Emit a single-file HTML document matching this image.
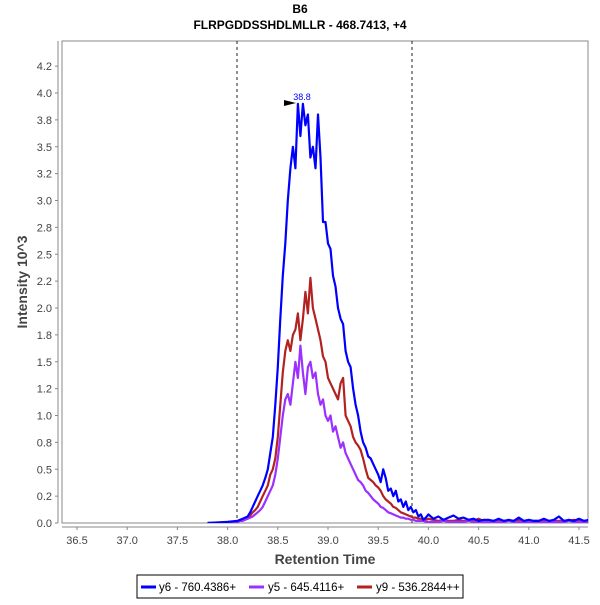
<!DOCTYPE html>
<html><head><meta charset="utf-8"><style>
body{margin:0;background:#fff;width:600px;height:600px;overflow:hidden;font-family:"Liberation Sans",sans-serif}
</style></head><body>
<svg id="chart" width="600" height="600" xmlns="http://www.w3.org/2000/svg" font-family="Liberation Sans, sans-serif">
<defs><clipPath id="clip"><rect x="62" y="41" width="526" height="482"/></clipPath></defs>
<text x="300" y="13" text-anchor="middle" font-size="12" font-weight="bold">B6</text>
<text x="300" y="29" text-anchor="middle" font-size="12" font-weight="bold">FLRPGDDSSHDLMLLR - 468.7413, +4</text>
<rect x="62" y="41" width="526" height="482" fill="#fff" stroke="#888" stroke-width="1"/>
<line x1="58" y1="41" x2="58" y2="523" stroke="#888"/>
<line x1="62" y1="527" x2="588" y2="527" stroke="#888"/>
<g id="yticks"></g><g id="xticks"></g>
<text transform="translate(27,282) rotate(-90)" text-anchor="middle" font-size="14" font-weight="bold" fill="#444">Intensity 10^3</text>
<text x="325" y="564" text-anchor="middle" font-size="14" font-weight="bold" fill="#444">Retention Time</text>
<line x1="237" y1="41" x2="237" y2="523" stroke="#222" stroke-dasharray="3,3"/>
<line x1="412" y1="41" x2="412" y2="523" stroke="#222" stroke-dasharray="3,3"/>
<g id="series" clip-path="url(#clip)"></g>
<polygon points="284,100 296,103 284,106" fill="#000"/>
<text x="302" y="100" text-anchor="middle" font-size="9" fill="#00f">38.8</text>
<g>
<rect x="137" y="575" width="326" height="23" fill="#fff" stroke="#000"/>
<line x1="141" y1="587" x2="156" y2="587" stroke="#00f" stroke-width="3"/>
<text x="159" y="591" font-size="11.5">y6 - 760.4386+</text>
<line x1="249" y1="587" x2="264" y2="587" stroke="#9b30ff" stroke-width="3"/>
<text x="268" y="591" font-size="11.5">y5 - 645.4116+</text>
<line x1="357" y1="587" x2="372" y2="587" stroke="#b22222" stroke-width="3"/>
<text x="376" y="591" font-size="11.5">y9 - 536.2844++</text>
</g>
</svg>
<script>
const yTickValues=[0,0.25,0.5,0.75,1,1.25,1.5,1.75,2,2.25,2.5,2.75,3,3.25,3.5,3.75,4,4.25];
const yTickLabels=["0.0","0.2","0.5","0.8","1.0","1.2","1.5","1.8","2.0","2.2","2.5","2.8","3.0","3.2","3.5","3.8","4.0","4.2"];
const xTickLabels=["36.5","37.0","37.5","38.0","38.5","39.0","39.5","40.0","40.5","41.0","41.5"];
const times=[37.8,38.0,
38.1,38.125,38.15,38.175,38.2,38.225,38.25,38.275,38.3,38.325,38.35,38.375,38.4,38.425,38.45,38.475,38.5,38.525,38.55,38.575,38.6,38.625,38.65,38.675,38.7,38.725,38.75,38.775,38.8,38.825,38.85,38.875,38.9,38.925,38.95,38.975,39.0,39.025,39.05,39.075,39.1,39.125,39.15,39.175,39.2,39.225,39.25,39.275,39.3,39.325,39.35,39.375,39.4,39.425,39.45,39.475,39.5,39.525,39.55,39.575,39.6,39.625,39.65,39.675,39.7,39.725,39.75,39.775,39.8,39.825,39.85,39.875,39.9,39.925,39.95,39.975,40.0,
40.05,40.1,40.15,40.2,40.25,40.3,40.35,40.4,40.45,40.5,40.55,40.6,40.65,40.7,40.75,40.8,40.85,40.9,40.95,41.0,41.05,41.1,41.15,41.2,41.25,41.3,41.35,41.4,41.45,41.5,41.55,41.6,41.65,41.7,41.75];
const y6=[0,0.01,
.02,.03,.04,.05,.06,.1,.15,.2,.25,.3,.35,.42,.5,.65,.8,1.1,1.45,1.9,2.3,2.6,3.0,3.3,3.5,3.3,3.9,3.6,3.9,3.7,3.8,3.4,3.5,3.3,3.8,3.4,2.8,2.8,2.6,2.55,2.3,2.2,2.0,1.9,1.85,1.6,1.5,1.45,1.25,1.1,1.0,0.85,0.75,0.7,0.62,0.6,0.55,0.5,0.45,0.38,0.5,0.42,0.3,0.32,0.25,0.3,0.2,0.22,0.15,0.2,0.12,0.15,0.1,0.12,0.06,0.08,0.03,0.05,0.08,
0.04,0.06,0.03,0.05,0.07,0.04,0.05,0.03,0.04,0.02,0.03,0.03,0.02,0.04,0.02,0.03,0.02,0.05,0.02,0.03,0.02,0.02,0.04,0.02,0.03,0.06,0.02,0.03,0.02,0.04,0.02,0.03,0.02,0.02,0.02];
const y5=[0,0,
.01,.02,.02,.03,.04,.05,.06,.08,.1,.12,.15,.2,.25,.3,.35,.45,.6,.8,1.0,1.15,1.2,1.1,1.3,1.5,1.35,1.65,1.4,1.2,1.45,1.5,1.35,1.4,1.2,1.1,1.15,1.0,0.95,1.0,0.85,0.9,0.8,0.7,0.75,0.65,0.6,0.55,0.5,0.45,0.4,0.38,0.35,0.3,0.28,0.25,0.22,0.2,0.18,0.15,0.14,0.12,0.1,0.09,0.08,0.07,0.06,0.05,0.05,0.04,0.04,0.03,0.03,0.02,0.02,0.02,0.02,0.01,0.01,
0.01,0.01,0.02,0.01,0.01,0.01,0.01,0.02,0.01,0.01,0.01,0.01,0.01,0.01,0.01,0.02,0.01,0.01,0.01,0.01,0.01,0.01,0.01,0.01,0.01,0.01,0.01,0.02,0.01,0.01,0.01,0.01,0.01,0.01,0.01];
const y9=[0,0,
.02,.03,.03,.04,.05,.07,.1,.12,.15,.2,.25,.3,.35,.45,.5,.6,.8,1.1,1.4,1.6,1.7,1.6,1.75,1.8,1.95,1.7,1.9,2.15,1.95,2.28,2.0,1.9,1.8,1.7,1.55,1.5,1.35,1.3,1.25,1.2,1.15,1.3,1.35,1.0,0.95,0.9,0.8,0.75,0.72,0.68,0.6,0.5,0.42,0.4,0.38,0.35,0.33,0.3,0.25,0.22,0.2,0.18,0.15,0.14,0.12,0.1,0.09,0.08,0.07,0.06,0.05,0.05,0.04,0.04,0.03,0.03,0.04,
0.03,0.02,0.03,0.02,0.02,0.03,0.02,0.02,0.02,0.04,0.02,0.02,0.02,0.02,0.02,0.02,0.02,0.03,0.02,0.02,0.02,0.02,0.02,0.02,0.02,0.02,0.02,0.02,0.03,0.02,0.02,0.02,0.02,0.02,0.02];
const NS="http://www.w3.org/2000/svg";
function xs(t){return 77+(t-36.5)*100.4;}
function ys(v){return 523-v*107.5;}
const yt=document.getElementById('yticks');
yTickValues.forEach((v,i)=>{const y=ys(v);
 const ln=document.createElementNS(NS,'line');ln.setAttribute('x1',55);ln.setAttribute('x2',58);ln.setAttribute('y1',y);ln.setAttribute('y2',y);ln.setAttribute('stroke','#888');
 
 yt.appendChild(ln);
 const t=document.createElementNS(NS,'text');t.setAttribute('x',52);t.setAttribute('y',y+4);t.setAttribute('text-anchor','end');t.setAttribute('font-size','11');t.setAttribute('fill','#444');t.textContent=yTickLabels[i];
 
 yt.appendChild(t);});
const xt=document.getElementById('xticks');
xTickLabels.forEach(l=>{const x=xs(parseFloat(l));
 const ln=document.createElementNS(NS,'line');ln.setAttribute('x1',x);ln.setAttribute('x2',x);ln.setAttribute('y1',527);ln.setAttribute('y2',530);ln.setAttribute('stroke','#888');
 
 xt.appendChild(ln);
 const t=document.createElementNS(NS,'text');t.setAttribute('x',x);t.setAttribute('y',544);t.setAttribute('text-anchor','middle');t.setAttribute('font-size','11');t.setAttribute('fill','#444');t.textContent=l;
 
 xt.appendChild(t);});
const sg=document.getElementById('series');
function draw(vals,color,name){
 const p=document.createElementNS(NS,'polyline');
 p.setAttribute('points',vals.map((v,i)=>xs(times[i]).toFixed(1)+','+ys(v).toFixed(1)).join(' '));
 p.setAttribute('fill','none');p.setAttribute('stroke',color);p.setAttribute('stroke-width','2.2');p.setAttribute('stroke-linejoin','round');
 
 
 sg.appendChild(p);}
draw(y9,'#b22222','series-y9');
draw(y5,'#9b30ff','series-y5');
draw(y6,'#0000ff','series-y6');
</script>
</body></html>
